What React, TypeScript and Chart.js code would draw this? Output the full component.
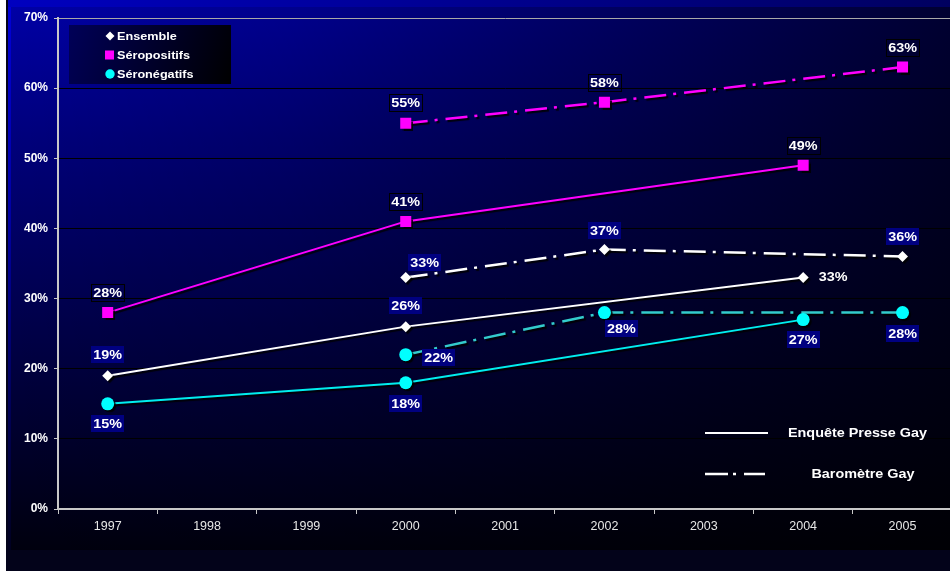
import React, { useEffect, useRef } from 'react';
import { Chart, registerables } from 'chart.js';
Chart.register(...registerables);

const years = ['1997', '1998', '1999', '2000', '2001', '2002', '2003', '2004', '2005'];
const yTicks = [0, 10, 20, 30, 40, 50, 60, 70];

// Enquête Presse Gay (solid lines)
const ensembleEPG = [19, null, null, 26, null, null, null, 33, null];
const seroposEPG = [28, null, null, 41, null, null, null, 49, null];
const seronegEPG = [15, null, null, 18, null, null, null, 27, null];
// Baromètre Gay (dash-dot lines)
const ensembleBaro = [null, null, null, 33, null, 37, null, null, 36];
const seroposBaro = [null, null, null, 55, null, 58, null, null, 63];
const seronegBaro = [null, null, null, 22, null, 28, null, null, 28];

const legendGroups = ['Ensemble', 'Séropositifs', 'Séronégatifs'];
const legendSurveys = ['Enquête Presse Gay', 'Baromètre Gay'];

const FONT = 'Arial, "Liberation Sans", Helvetica, sans-serif';
const WHITE = '#ffffff';
const MAGENTA = '#ff00ff';
const CYAN = '#00ffff';
const TEAL = '#33cccc';
const DASHDOT = [22, 7, 3, 8];
const STRETCH = 1.15;

// label placement (dx, dy from point) and box style per dataset
const labelLayout: { style: string; off: ([number, number] | null)[] }[] = [
  { style: 'fill', off: [[0, -21], null, null, [0, -21], null, null, null, [30, -1], null] },
  { style: 'border', off: [[0, -20], null, null, [0, -20], null, null, null, [0, -20], null] },
  { style: 'fill', off: [[0, 20], null, null, [0, 21], null, null, null, [0, 20], null] },
  { style: 'fill', off: [null, null, null, [19, -15], null, [0, -19], null, null, [0, -20]] },
  { style: 'border', off: [null, null, null, [0, -21], null, [0, -20], null, null, [0, -20]] },
  { style: 'fill', off: [null, null, null, [33, 3], null, [17, 16], null, null, [0, 21]] },
];
const noBox: Record<string, boolean> = { '0-7': true };

function stretchedText(ctx: any, txt: string, x: number, y: number, align: string) {
  ctx.save();
  ctx.translate(x, y);
  ctx.scale(STRETCH, 1);
  ctx.textAlign = align;
  ctx.fillText(txt, 0, 0);
  ctx.restore();
}

const chartPlugin = {
  id: 'custom',
  beforeDatasetsDraw(chart: any) {
    const ctx = chart.ctx;
    ctx.save();
    ctx.shadowColor = 'rgba(0,0,0,0.85)';
    ctx.shadowOffsetX = 2;
    ctx.shadowOffsetY = 2;
    ctx.shadowBlur = 1;
  },
  afterDatasetsDraw(chart: any) {
    const ctx = chart.ctx;
    ctx.restore();
    ctx.save();
    ctx.font = `bold 12.5px ${FONT}`;
    ctx.textBaseline = 'middle';
    chart.data.datasets.forEach((ds: any, i: number) => {
      const meta = chart.getDatasetMeta(i);
      const lay = labelLayout[i];
      ds.data.forEach((v: any, j: number) => {
        if (v == null) return;
        const off = lay.off[j];
        if (!off) return;
        const pt = meta.data[j];
        const x = pt.x + off[0];
        const y = pt.y + off[1];
        const txt = v + '%';
        const w = ctx.measureText(txt).width * STRETCH + 4;
        const h = 17;
        if (!noBox[i + '-' + j]) {
          if (lay.style === 'fill') {
            ctx.fillStyle = '#000080';
            ctx.fillRect(Math.round(x - w / 2), Math.round(y - h / 2), Math.round(w), h);
          } else {
            ctx.strokeStyle = '#000000';
            ctx.lineWidth = 1;
            ctx.strokeRect(Math.round(x - w / 2) + 0.5, Math.round(y - h / 2) + 0.5, Math.round(w), h);
          }
        }
        ctx.fillStyle = WHITE;
        stretchedText(ctx, txt, x, y + 1, 'center');
      });
    });
    ctx.restore();
  },
  afterDraw(chart: any) {
    const ctx = chart.ctx;
    ctx.save();
    // top-left legend box
    const g = ctx.createLinearGradient(69, 25, 231, 84);
    g.addColorStop(0, '#000058');
    g.addColorStop(1, '#000000');
    ctx.fillStyle = g;
    ctx.fillRect(69, 25, 162, 59);
    const rows = [36, 55, 74];
    const mx = 110;
    ctx.font = `bold 11px ${FONT}`;
    ctx.textBaseline = 'middle';
    legendGroups.forEach((name, k) => {
      const y = rows[k];
      if (k === 0) {
        ctx.fillStyle = WHITE;
        ctx.beginPath();
        ctx.moveTo(mx, y - 4.5);
        ctx.lineTo(mx + 4.5, y);
        ctx.lineTo(mx, y + 4.5);
        ctx.lineTo(mx - 4.5, y);
        ctx.closePath();
        ctx.fill();
      } else if (k === 1) {
        ctx.fillStyle = MAGENTA;
        ctx.fillRect(mx - 5, y - 4.5, 9, 9);
      } else {
        ctx.fillStyle = CYAN;
        ctx.beginPath();
        ctx.arc(mx, y, 4.7, 0, Math.PI * 2);
        ctx.fill();
      }
      ctx.fillStyle = WHITE;
      stretchedText(ctx, name, 117, y + 1, 'left');
    });
    // bottom-right line-style legend
    ctx.strokeStyle = WHITE;
    ctx.lineWidth = 2;
    ctx.beginPath();
    ctx.moveTo(705, 433);
    ctx.lineTo(768, 433);
    ctx.stroke();
    ctx.lineWidth = 2.5;
    ctx.beginPath();
    ctx.moveTo(705, 474);
    ctx.lineTo(728, 474);
    ctx.moveTo(733, 474);
    ctx.lineTo(736, 474);
    ctx.moveTo(744, 474);
    ctx.lineTo(765, 474);
    ctx.stroke();
    ctx.font = `bold 12.5px ${FONT}`;
    ctx.fillStyle = WHITE;
    stretchedText(ctx, legendSurveys[0], 788, 434, 'left');
    stretchedText(ctx, legendSurveys[1], 863, 475, 'center');
    ctx.restore();
  },
};

function line(label: string, data: (number | null)[], color: string, markerColor: string, dashed: boolean, pointStyle: string, radius: number) {
  return {
    label,
    data,
    borderColor: color,
    borderWidth: dashed ? 2.5 : 2,
    borderDash: dashed ? DASHDOT : [],
    backgroundColor: markerColor,
    pointStyle,
    pointRadius: radius,
    pointHoverRadius: radius,
    pointBackgroundColor: markerColor,
    pointBorderColor: markerColor,
    pointBorderWidth: 0,
    spanGaps: true,
    tension: 0,
    fill: false,
  };
}

export default function App() {
  const ref = useRef<HTMLCanvasElement>(null);
  useEffect(() => {
    document.body.style.margin = '0';
    const chart = new Chart(ref.current as HTMLCanvasElement, {
      type: 'line',
      data: {
        labels: years,
        datasets: [
          line('Ensemble EPG', ensembleEPG, WHITE, WHITE, false, 'rectRot', 5.5),
          line('Séropositifs EPG', seroposEPG, MAGENTA, MAGENTA, false, 'rect', 7.8),
          line('Séronégatifs EPG', seronegEPG, '#00eeee', CYAN, false, 'circle', 6.5),
          line('Ensemble Baromètre', ensembleBaro, WHITE, WHITE, true, 'rectRot', 5.5),
          line('Séropositifs Baromètre', seroposBaro, MAGENTA, MAGENTA, true, 'rect', 7.8),
          line('Séronégatifs Baromètre', seronegBaro, TEAL, CYAN, true, 'circle', 6.5),
        ] as any,
      },
      options: {
        responsive: false,
        animation: false,
        devicePixelRatio: 1,
        layout: { padding: { top: 18, left: 0, right: 0, bottom: 0 } },
        plugins: { legend: { display: false }, tooltip: { enabled: false } },
        scales: {
          x: {
            type: 'category',
            offset: true,
            grid: { offset: true, drawOnChartArea: false, drawTicks: true, tickLength: 5, tickColor: '#c8c8c8' },
            border: { color: '#c8c8c8', width: 2 },
            ticks: { color: '#e6e6e6', font: { family: FONT, size: 12.5 }, padding: 5, maxRotation: 0, autoSkip: false },
            afterFit: (s: any) => { s.height = 62; },
          },
          y: {
            min: 0,
            max: 70,
            afterBuildTicks: (s: any) => { s.ticks = yTicks.map((v) => ({ value: v })); },
            ticks: { color: WHITE, font: { family: FONT, size: 12, weight: 'bold' }, padding: 6, callback: (v: any) => v + '%' },
            grid: {
              color: (c: any) => (c.tick && c.tick.value === 70 ? '#a8a8a8' : '#000000'),
              lineWidth: 1,
              tickLength: 4,
              tickColor: '#c8c8c8',
            },
            border: { color: '#c8c8c8', width: 2 },
            afterFit: (s: any) => { s.width = 58; },
          },
        },
      } as any,
      plugins: [chartPlugin],
    });
    return () => chart.destroy();
  }, []);
  return (
    <div style={{ position: 'relative', width: 950, height: 571, overflow: 'hidden', background: '#ffffff' }}>
      <div style={{ position: 'absolute', left: 6, top: 0, width: 944, height: 571, background: '#03031a' }} />
      <div
        style={{
          position: 'absolute',
          left: 8,
          top: 0,
          width: 942,
          height: 550,
          background:
            'linear-gradient(to right, rgba(0,0,0,0) 0%, rgba(0,0,0,0.15) 30%, rgba(0,0,0,0.7) 100%), linear-gradient(to bottom, #0000a8 0%, #00007c 25%, #000050 55%, #00000e 100%)',
        }}
      />
      <div style={{ position: 'absolute', left: 8, top: 0, width: 3, height: 550, background: 'linear-gradient(to bottom, #0000d8 0%, #0000a0 40%, #000020 100%)' }} />
      <div style={{ position: 'absolute', left: 8, top: 0, width: 942, height: 7, background: 'linear-gradient(to right, #0000c0 0%, #000060 100%)' }} />
      <canvas ref={ref} width={960} height={571} style={{ position: 'absolute', left: 0, top: 0, width: 960, height: 571 }} />
    </div>
  );
}
